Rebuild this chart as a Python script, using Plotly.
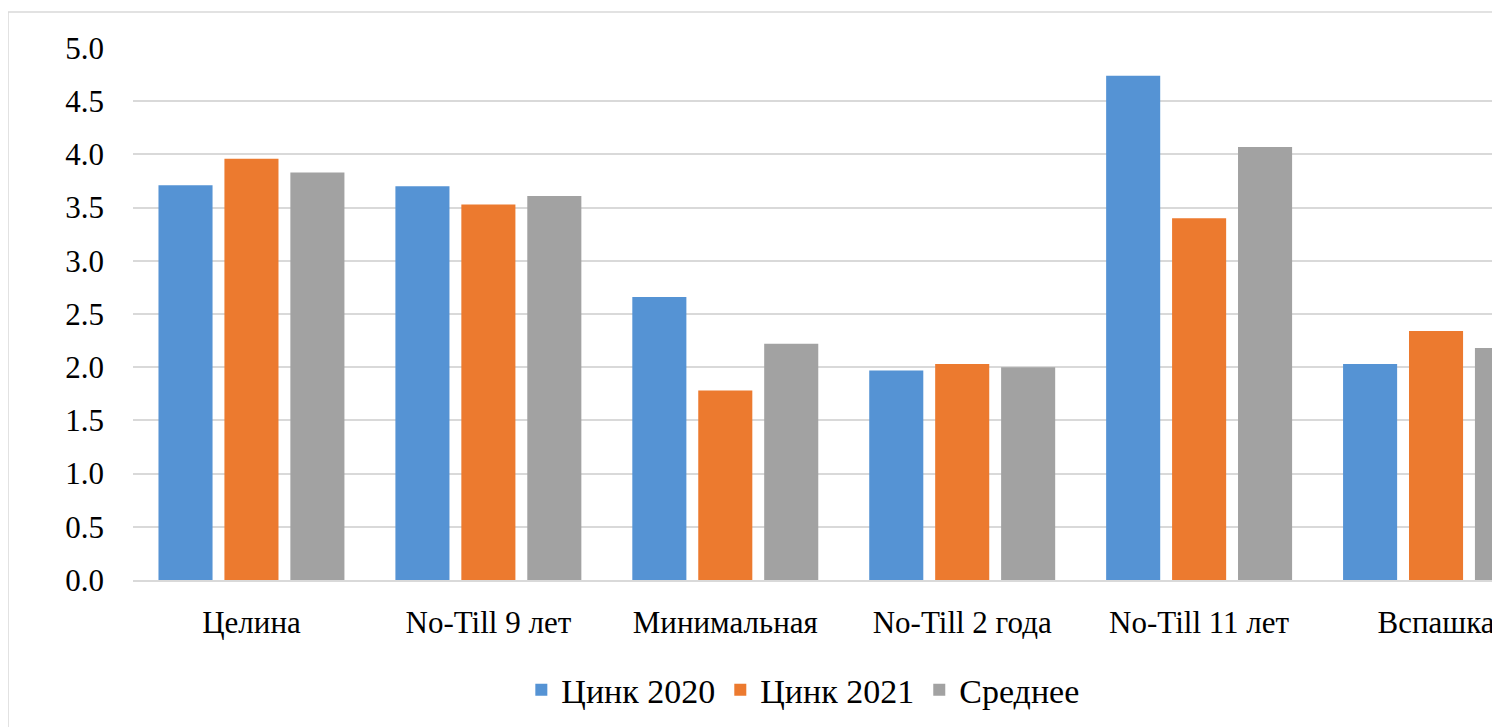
import plotly.graph_objects as go

categories = ["Целина", "No-Till 9 лет", "Минимальная", "No-Till 2 года", "No-Till 11 лет", "Вспашка"]
zinc_2020 = [3.71, 3.70, 2.66, 1.97, 4.74, 2.03]
zinc_2021 = [3.96, 3.53, 1.78, 2.03, 3.40, 2.34]
average = [3.83, 3.61, 2.22, 2.00, 4.07, 2.18]
y_ticks = [0, 0.5, 1, 1.5, 2, 2.5, 3, 3.5, 4, 4.5, 5]

font_family = "Liberation Serif, Times New Roman, serif"

fig = go.Figure()

fig.add_trace(go.Bar(x=categories, y=zinc_2020, name="Цинк 2020",
                     marker=dict(color="#5593D4", line=dict(width=0))))
fig.add_trace(go.Bar(x=categories, y=zinc_2021, name="Цинк 2021",
                     marker=dict(color="#EC7A2F", line=dict(width=0))))
fig.add_trace(go.Bar(x=categories, y=average, name="Среднее",
                     marker=dict(color="#A2A2A2", line=dict(width=0))))

# the source picture is cut off on the right, so the last group is clipped
fig.update_xaxes(type="category", range=[-0.5, 5.27],
                 showgrid=False, showline=True, linecolor="#D9D9D9", linewidth=2,
                 ticks="", ticklabelstandoff=14,
                 tickfont=dict(family=font_family, size=31, color="#000000"))
fig.update_yaxes(range=[0, 5], tickvals=y_ticks, tickformat=".1f",
                 showgrid=True, gridcolor="#D9D9D9", gridwidth=1.5,
                 zeroline=False, showline=False, ticks="", ticklabelstandoff=28,
                 tickfont=dict(family=font_family, size=31, color="#000000"))

# outer frame of the chart area
fig.add_shape(type="rect", xref="paper", yref="paper",
              x0=-125 / 1367, x1=1.2, y0=-0.5, y1=1 + 36 / 532,
              line=dict(color="#D9D9D9", width=1.5), layer="below")

# page body adds 8px on top/left, so the figure is 8px smaller than the window
fig.update_layout(
    width=1492, height=719,
    margin=dict(l=125, r=0, t=40, b=147),
    paper_bgcolor="white", plot_bgcolor="white",
    barmode="group", bargap=0.165, bargroupgap=0.18,
    font=dict(family=font_family, color="#000000"),
    legend=dict(orientation="h", x=0.49, xanchor="center", y=-0.207, yanchor="middle",
                font=dict(family=font_family, size=34, color="#000000"),
                itemwidth=30, tracegroupgap=0),
)

fig.write_html("out.html")
